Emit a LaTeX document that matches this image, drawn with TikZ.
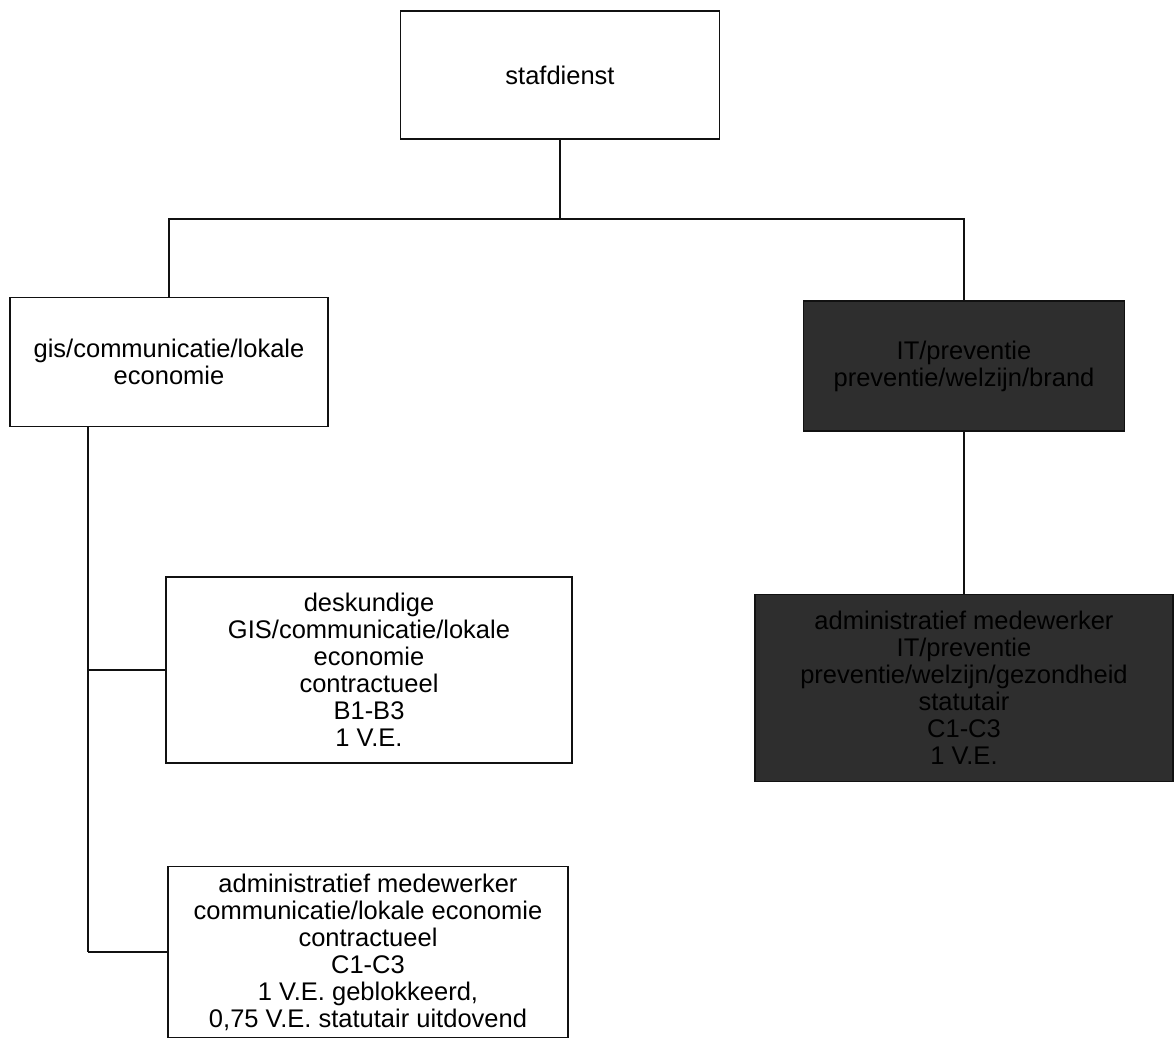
\documentclass[tikz,border=0pt]{standalone}
\usepackage{fontspec}
\setmainfont{Liberation Sans}
\usetikzlibrary{positioning}
\definecolor{inkx}{HTML}{111111}
\definecolor{dimx}{HTML}{2E2E2E}

\begin{document}
\begin{tikzpicture}[x=1pt, y=-1pt,
  unit/.style={draw=inkx, line width=1.6pt, fill=white, align=center, inner sep=0pt,
    font=\fontsize{25.5}{27}\selectfont},
  dark/.style={unit, fill=dimx, text=black},
  link/.style={draw=inkx, line width=1.8pt}]

  \useasboundingbox (0,0) rectangle (1176,1060);

  \node[unit, minimum width=319pt, minimum height=128pt] (staf) at (560,75) {stafdienst};

  \node[unit, minimum width=318pt, minimum height=129pt] (gis) at (169,362) {gis/communicatie/lokale\\economie};
  \node[dark, minimum width=321pt, minimum height=130pt] (prev) at (964,366) {IT/preventie\\preventie/welzijn/brand};

  \node[unit, minimum width=406pt, minimum height=186pt] (gisdesk) at (369,670) {deskundige\\GIS/communicatie/lokale\\economie\\contractueel\\B1-B3\\1 V.E.};
  \node[unit, minimum width=400pt, minimum height=171pt] (gisadmin) at (368,952) {administratief medewerker\\communicatie/lokale economie\\contractueel\\C1-C3\\1 V.E. geblokkeerd,\\0,75 V.E. statutair uitdovend};

  \node[dark, minimum width=418pt, minimum height=187pt] (prevadmin) at (964,688) {administratief medewerker\\IT/preventie\\preventie/welzijn/gezondheid\\statutair\\C1-C3\\1 V.E.};

  \coordinate (split) at (560,219);
  \draw[link] (staf.south) -- (split);
  \draw[link] (staf.south |- split) -| (gis.north);
  \draw[link] (staf.south |- split) -| (prev.north);
  \draw[link] (prev.south) -- (prevadmin.north);
  \draw[link] (88,0 |- gis.south) -- (88,0 |- gisadmin.west);
  \draw[link] (88,0 |- gisdesk.west) -- (gisdesk.west);
  \draw[link] (88,0 |- gisadmin.west) -- (gisadmin.west);
\end{tikzpicture}
\end{document}
